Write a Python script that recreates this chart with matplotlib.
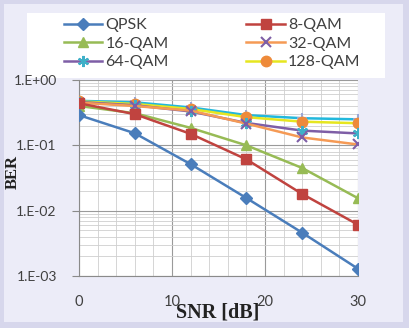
import matplotlib.pyplot as plt
from matplotlib.patches import Rectangle
from matplotlib.ticker import FixedLocator, NullFormatter

snr = [0, 6, 12, 18, 24, 30]
qpsk = [0.29, 0.153, 0.0515, 0.0156, 0.0046, 0.00129]
qam8 = [0.44, 0.30, 0.150, 0.061, 0.018, 0.0061]
qam16 = [0.40, 0.31, 0.185, 0.100, 0.045, 0.0155]
qam32 = [0.45, 0.40, 0.34, 0.215, 0.132, 0.103]
qam64 = [0.46, 0.41, 0.33, 0.220, 0.168, 0.152]
qam128 = [0.47, 0.43, 0.36, 0.270, 0.230, 0.218]
extra = [0.48, 0.455, 0.38, 0.290, 0.260, 0.250]

ytick_vals = [1e-3, 1e-2, 1e-1, 1e0]
ytick_labels = ["1.E-03", "1.E-02", "1.E-01", "1.E+00"]
xtick_vals = [0, 10, 20, 30]

W, H = 410, 328
fig = plt.figure(figsize=(W / 100, H / 100), dpi=100)
fig.patch.set_facecolor("#d7d7ec")
fig.patches.append(Rectangle((4 / W, 1 - 322 / H), 399 / W, 318 / H,
                             transform=fig.transFigure, facecolor="#ececf8",
                             edgecolor="none", zorder=-2))
fig.patches.append(Rectangle((27 / W, 1 - 78 / H), 358 / W, 65 / H,
                             transform=fig.transFigure, facecolor="white",
                             edgecolor="none", zorder=-1))

ax = fig.add_axes([79 / W, 1 - 276 / H, 279 / W, 196 / H])
ax.set_facecolor("white")
ax.set_yscale("log")
ax.set_xlim(0, 30)
ax.set_ylim(1e-3, 1)

lw = 1.8
ax.plot(snr, extra, color="#22b8dc", lw=lw, marker="+", ms=7, mec="#9aa8d8", mew=1.5, zorder=3)
ax.plot(snr, qam128, color="#e6e620", lw=lw, marker="o", ms=7.5, mfc="#ee8a3a", mec="#ee8a3a", label="128-QAM", zorder=4)
ax.plot(snr, qam64, color="#7e5ea6", lw=lw, marker=(6, 2, 0), ms=8, mec="#3fb0c8", mew=1.5, label="64-QAM", zorder=4)
ax.plot(snr, qam32, color="#f59a55", lw=lw, marker="x", ms=7, mec="#7e5ea6", mew=1.5, label="32-QAM", zorder=4)
ax.plot(snr, qam16, color="#97bb55", lw=lw, marker="^", ms=7.5, label="16-QAM", zorder=5)
ax.plot(snr, qam8, color="#c0433f", lw=lw, marker="s", ms=7.5, label="8-QAM", zorder=5)
ax.plot(snr, qpsk, color="#4a7dbb", lw=lw, marker="D", ms=6, label="QPSK", zorder=6)

ax.set_xticks(xtick_vals)
ax.xaxis.set_minor_locator(FixedLocator(range(0, 31, 2)))
ax.set_yticks(ytick_vals)
ax.set_yticklabels(ytick_labels)
ax.yaxis.set_minor_formatter(NullFormatter())
ax.grid(which="major", color="#9a9a9a", lw=0.8)
ax.grid(which="minor", color="#cfcfcf", lw=0.6)
ax.set_axisbelow(True)
for s in ["top", "right"]:
    ax.spines[s].set_visible(False)
for s in ["left", "bottom"]:
    ax.spines[s].set_color("#8a8a8a")
ax.tick_params(axis="x", which="both", length=0, pad=14, labelsize=10.5, labelcolor="#404040")
ax.tick_params(axis="y", which="major", length=5, color="#8a8a8a", pad=11, labelsize=10, labelcolor="#404040")
ax.tick_params(axis="y", which="minor", length=0)
for t in ax.get_xticklabels() + ax.get_yticklabels():
    t.set_fontfamily("Lato")

fig.text(218 / W, 1 - 312 / H, "SNR [dB]", ha="center", va="center",
         fontsize=14.5, fontweight="bold", family="Liberation Serif", color="#222222")
fig.text(12.5 / W, 1 - 172 / H, "BER", ha="center", va="center", rotation=90,
         fontsize=12, fontweight="bold", family="Liberation Serif", color="#222222")

h, l = ax.get_legend_handles_labels()
order = ["QPSK", "16-QAM", "64-QAM", "8-QAM", "32-QAM", "128-QAM"]
hs = [h[l.index(n)] for n in order]
leg = fig.legend(hs, order, loc="upper left", bbox_to_anchor=(56 / W, 1 - 10 / H),
                 ncol=2, frameon=False, borderpad=0, handlelength=2.4,
                 handletextpad=0.2, columnspacing=4.85, labelspacing=0.28,
                 prop={"family": "Lato", "size": 11.5})
for t in leg.get_texts():
    t.set_color("#404040")

fig.savefig("out.png", dpi=100, facecolor=fig.get_facecolor())
